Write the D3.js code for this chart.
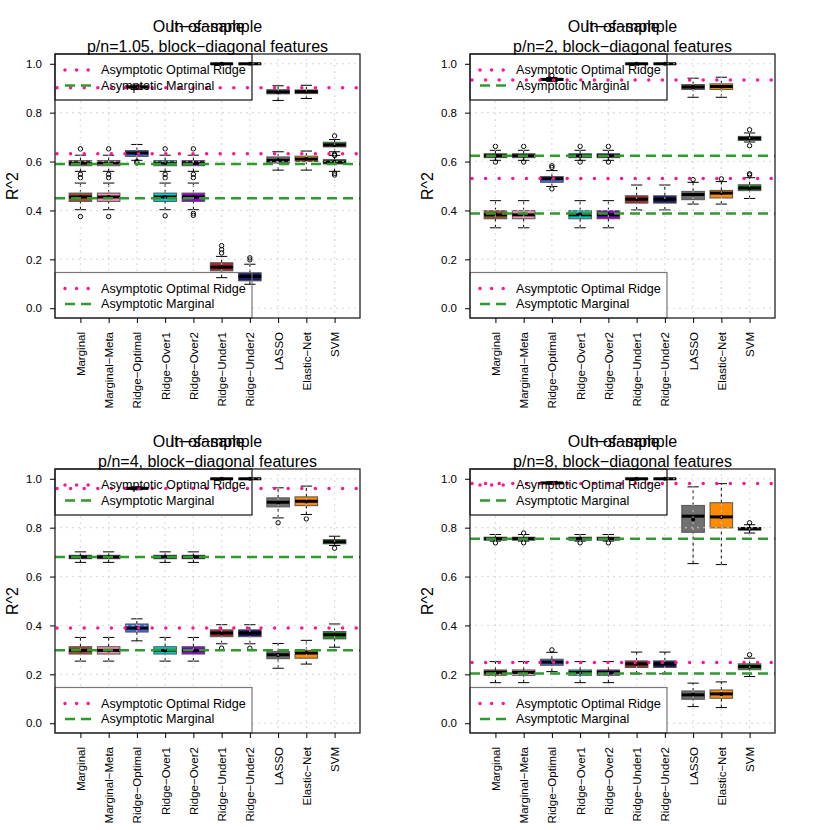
<!doctype html>
<html lang="en">
<head>
<meta charset="UTF-8">
<title>R^2 by method, block-diagonal features</title>
<style>
  body { margin: 0; background: #fff; }
  svg { font-family: "Liberation Sans", Arial, Helvetica, sans-serif; }
</style>
</head>
<body>
<svg id="chart" width="830" height="830"></svg>
<script src="https://d3js.org/d3.v7.min.js"></script>
<script>
const methods = ["Marginal", "Marginal−Meta", "Ridge−Optimal", "Ridge−Over1", "Ridge−Over2",
    "Ridge−Under1", "Ridge−Under2", "LASSO", "Elastic−Net", "SVM"];
const methodColors = ["#A0522D", "#F58FAE", "#4169E1", "#00CED1", "#9400D3",
    "#A52A2A", "#191970", "#707070", "#FF8C00", "#228B22"];
const yTicks = [0, 0.2, 0.4, 0.6, 0.8, 1.0];
const ratioLabels = ["1.05", "2", "4", "8"];

// asymptotic levels per panel: [in-sample, out-of-sample]
const ridgeAsymptote = [[0.902, 0.632], [0.934, 0.531], [0.960, 0.390], [0.981, 0.248]];
const marginalAsymptote = [[0.590, 0.450], [0.624, 0.388], [0.680, 0.299], [0.755, 0.203]];

// box stats per method: [lower whisker, q1, median, q3, upper whisker, mean]
const inSample105 = [
    [0.560, 0.583, 0.594, 0.604, 0.626, 0.594],
    [0.560, 0.583, 0.594, 0.604, 0.626, 0.594],
    [0.895, 0.901, 0.905, 0.909, 0.913, 0.905],
    [0.560, 0.583, 0.594, 0.604, 0.626, 0.594],
    [0.560, 0.583, 0.594, 0.604, 0.626, 0.594],
    [0.997, 0.999, 1.000, 1.000, 1.000, 1.000],
    [0.997, 0.999, 1.000, 1.000, 1.000, 1.000],
    [0.850, 0.877, 0.885, 0.894, 0.910, 0.885],
    [0.858, 0.878, 0.886, 0.893, 0.912, 0.886],
    [0.640, 0.660, 0.668, 0.679, 0.690, 0.668]
];
const inOutliers105 = [[0.652], [0.652], [], [0.652], [0.652], [], [], [], [], [0.705, 0.630, 0.625]];
const outSample105 = [
    [0.403, 0.437, 0.455, 0.471, 0.512, 0.455],
    [0.403, 0.437, 0.455, 0.471, 0.512, 0.455],
    [0.605, 0.621, 0.635, 0.645, 0.670, 0.633],
    [0.403, 0.437, 0.455, 0.471, 0.512, 0.455],
    [0.403, 0.437, 0.455, 0.471, 0.512, 0.455],
    [0.125, 0.153, 0.168, 0.186, 0.212, 0.168],
    [0.098, 0.112, 0.130, 0.145, 0.180, 0.130],
    [0.565, 0.594, 0.605, 0.619, 0.640, 0.605],
    [0.565, 0.600, 0.610, 0.622, 0.643, 0.610],
    [0.560, 0.590, 0.598, 0.608, 0.625, 0.598]
];
const outOutliers105 = [[0.534, 0.548, 0.375], [0.534, 0.548, 0.375], [0.600, 0.594], [0.534, 0.548, 0.378],
    [0.534, 0.548, 0.380, 0.388], [0.226, 0.240, 0.256], [0.198, 0.206], [], [], [0.552, 0.545]];

const inSample2 = [
    [0.605, 0.616, 0.624, 0.632, 0.646, 0.624],
    [0.605, 0.616, 0.624, 0.632, 0.646, 0.624],
    [0.928, 0.932, 0.936, 0.940, 0.944, 0.936],
    [0.605, 0.616, 0.624, 0.632, 0.646, 0.624],
    [0.605, 0.616, 0.624, 0.632, 0.646, 0.624],
    [0.997, 0.999, 1.000, 1.000, 1.000, 1.000],
    [0.997, 0.999, 1.000, 1.000, 1.000, 1.000],
    [0.863, 0.895, 0.905, 0.915, 0.941, 0.905],
    [0.863, 0.895, 0.907, 0.918, 0.945, 0.907],
    [0.680, 0.686, 0.695, 0.703, 0.717, 0.695]
];
const inOutliers2 = [[0.662, 0.598], [0.662, 0.598], [0.952], [0.662, 0.598], [0.662, 0.598], [], [], [], [], [0.730, 0.665]];
const outSample2 = [
    [0.329, 0.366, 0.382, 0.399, 0.440, 0.384],
    [0.329, 0.366, 0.382, 0.399, 0.440, 0.384],
    [0.498, 0.515, 0.530, 0.539, 0.563, 0.530],
    [0.329, 0.366, 0.382, 0.399, 0.440, 0.384],
    [0.329, 0.366, 0.382, 0.399, 0.440, 0.384],
    [0.402, 0.430, 0.446, 0.460, 0.504, 0.446],
    [0.402, 0.430, 0.446, 0.460, 0.504, 0.446],
    [0.426, 0.444, 0.465, 0.478, 0.515, 0.465],
    [0.426, 0.451, 0.471, 0.482, 0.518, 0.471],
    [0.449, 0.481, 0.492, 0.505, 0.534, 0.492]
];
const outOutliers2 = [[], [], [0.583, 0.576, 0.488], [], [], [], [], [0.526], [0.529], [0.550, 0.545]];

const inSample4 = [
    [0.658, 0.673, 0.680, 0.687, 0.701, 0.680],
    [0.658, 0.673, 0.680, 0.687, 0.701, 0.680],
    [0.955, 0.958, 0.961, 0.964, 0.967, 0.961],
    [0.658, 0.673, 0.680, 0.687, 0.701, 0.680],
    [0.658, 0.673, 0.680, 0.687, 0.701, 0.680],
    [0.997, 0.999, 1.000, 1.000, 1.000, 1.000],
    [0.997, 0.999, 1.000, 1.000, 1.000, 1.000],
    [0.840, 0.885, 0.904, 0.922, 0.963, 0.902],
    [0.854, 0.890, 0.908, 0.926, 0.970, 0.907],
    [0.727, 0.734, 0.742, 0.751, 0.765, 0.742]
];
const inOutliers4 = [[], [], [], [], [], [], [], [0.820], [0.836], [0.716]];
const outSample4 = [
    [0.254, 0.283, 0.298, 0.313, 0.351, 0.298],
    [0.254, 0.283, 0.298, 0.313, 0.351, 0.298],
    [0.337, 0.373, 0.389, 0.406, 0.427, 0.390],
    [0.254, 0.283, 0.298, 0.313, 0.351, 0.298],
    [0.254, 0.283, 0.298, 0.313, 0.351, 0.298],
    [0.325, 0.354, 0.369, 0.382, 0.403, 0.369],
    [0.325, 0.354, 0.369, 0.382, 0.403, 0.369],
    [0.225, 0.264, 0.280, 0.293, 0.326, 0.279],
    [0.242, 0.266, 0.287, 0.298, 0.339, 0.287],
    [0.311, 0.345, 0.362, 0.375, 0.406, 0.362]
];
const outOutliers4 = [[], [], [], [], [], [0.307], [0.307], [], [], []];

const inSample8 = [
    [0.745, 0.749, 0.755, 0.761, 0.772, 0.755],
    [0.745, 0.749, 0.755, 0.761, 0.772, 0.755],
    [0.978, 0.981, 0.983, 0.985, 0.988, 0.983],
    [0.745, 0.749, 0.755, 0.761, 0.772, 0.755],
    [0.745, 0.749, 0.755, 0.761, 0.772, 0.755],
    [0.997, 0.999, 1.000, 1.000, 1.000, 1.000],
    [0.997, 0.999, 1.000, 1.000, 1.000, 1.000],
    [0.653, 0.781, 0.847, 0.891, 0.967, 0.833],
    [0.649, 0.799, 0.844, 0.902, 0.980, 0.843],
    [0.778, 0.790, 0.796, 0.801, 0.812, 0.796]
];
const inOutliers8 = [[0.738], [0.738, 0.778], [], [0.738], [0.738], [], [], [], [], [0.820]];
const outSample8 = [
    [0.166, 0.196, 0.208, 0.218, 0.252, 0.208],
    [0.166, 0.196, 0.208, 0.218, 0.252, 0.208],
    [0.211, 0.237, 0.250, 0.262, 0.290, 0.250],
    [0.166, 0.196, 0.208, 0.218, 0.252, 0.208],
    [0.166, 0.196, 0.208, 0.218, 0.252, 0.208],
    [0.202, 0.228, 0.243, 0.255, 0.291, 0.244],
    [0.202, 0.228, 0.243, 0.255, 0.291, 0.244],
    [0.068, 0.098, 0.116, 0.132, 0.164, 0.116],
    [0.064, 0.102, 0.120, 0.136, 0.169, 0.119],
    [0.191, 0.219, 0.232, 0.243, 0.266, 0.231]
];
const outOutliers8 = [[], [], [0.300], [], [], [], [], [], [], [0.280]];

const panels = [
    {ratio: ratioLabels[0], inS: inSample105, inO: inOutliers105, outS: outSample105, outO: outOutliers105},
    {ratio: ratioLabels[1], inS: inSample2, inO: inOutliers2, outS: outSample2, outO: outOutliers2},
    {ratio: ratioLabels[2], inS: inSample4, inO: inOutliers4, outS: outSample4, outO: outOutliers4},
    {ratio: ratioLabels[3], inS: inSample8, inO: inOutliers8, outS: outSample8, outO: outOutliers8}
];

const svg = d3.select("#chart");
const fontFamily = '"Liberation Sans", Arial, Helvetica, sans-serif';
const panelOrigins = [[0, 0], [415, 0], [0, 415], [415, 415]];
const plot = {left: 55, right: 360, top: 54, bottom: 318};
const legendTop = {x: 55, y: 54, w: 197, h: 46};
const legendBottom = {x: 55, y: 272.5, w: 197, h: 45.5};

const x = d3.scaleLinear().domain([0.1, 10.9]).range([plot.left, plot.right]);
const y = d3.scaleLinear().domain([-0.04, 1.04]).range([plot.bottom, plot.top]);
const halfBox = x(1.4) - x(1);
const halfCap = halfBox / 2;

function drawBoxes(g, stats, outliers) {
    const rows = stats.map((s, i) => ({s: s, i: i, col: methodColors[i], out: outliers[i]}));
    const b = g.append("g").selectAll("g").data(rows).join("g");

    // whiskers
    b.append("line")
        .attr("x1", d => x(d.i + 1)).attr("x2", d => x(d.i + 1))
        .attr("y1", d => y(d.s[0])).attr("y2", d => y(d.s[1]))
        .attr("stroke", "#000").attr("stroke-dasharray", "3,3");
    b.append("line")
        .attr("x1", d => x(d.i + 1)).attr("x2", d => x(d.i + 1))
        .attr("y1", d => y(d.s[3])).attr("y2", d => y(d.s[4]))
        .attr("stroke", "#000").attr("stroke-dasharray", "3,3");
    b.append("line")
        .attr("x1", d => x(d.i + 1) - halfCap).attr("x2", d => x(d.i + 1) + halfCap)
        .attr("y1", d => y(d.s[0])).attr("y2", d => y(d.s[0]))
        .attr("stroke", "#000");
    b.append("line")
        .attr("x1", d => x(d.i + 1) - halfCap).attr("x2", d => x(d.i + 1) + halfCap)
        .attr("y1", d => y(d.s[4])).attr("y2", d => y(d.s[4]))
        .attr("stroke", "#000");

    b.append("rect")
        .attr("x", d => x(d.i + 1) - halfBox)
        .attr("y", d => y(d.s[3]))
        .attr("width", 2 * halfBox)
        .attr("height", d => Math.max(0.3, y(d.s[1]) - y(d.s[3])))
        .attr("fill", d => d.col)
        .attr("stroke", "#555")
        .attr("stroke-width", 1);

    b.append("line")
        .attr("x1", d => x(d.i + 1) - halfBox).attr("x2", d => x(d.i + 1) + halfBox)
        .attr("y1", d => y(d.s[2])).attr("y2", d => y(d.s[2]))
        .attr("stroke", "#000").attr("stroke-width", 3);

    b.selectAll("circle.outlier")
        .data(d => d.out.map(v => ({v: v, i: d.i})))
        .join("circle")
        .attr("class", "outlier")
        .attr("cx", d => x(d.i + 1))
        .attr("cy", d => y(d.v))
        .attr("r", 2.2)
        .attr("fill", "none")
        .attr("stroke", "#000");

    b.append("circle")
        .attr("cx", d => x(d.i + 1))
        .attr("cy", d => y(d.s[5]))
        .attr("r", 2)
        .attr("fill", "#000");
}

function drawLegend(g, box, border) {
    g.append("rect")
        .attr("x", box.x).attr("y", box.y)
        .attr("width", box.w).attr("height", box.h)
        .attr("fill", "none").attr("stroke", border).attr("stroke-width", 1.2);
    const r1 = box.y + 16, r2 = box.y + 31.5;
    g.append("line")
        .attr("x1", 65).attr("x2", 90).attr("y1", r1).attr("y2", r1)
        .attr("stroke", "#FF1493").attr("stroke-width", 3.5)
        .attr("stroke-linecap", "round").attr("stroke-dasharray", "0,11.6");
    g.append("line")
        .attr("x1", 65).attr("x2", 91).attr("y1", r2).attr("y2", r2)
        .attr("stroke", "#2E9B2E").attr("stroke-width", 2.5)
        .attr("stroke-dasharray", "10,6");
    g.append("text").attr("x", 101).attr("y", r1).attr("dy", "0.35em")
        .attr("font-size", 12.6).text("Asymptotic Optimal Ridge");
    g.append("text").attr("x", 101).attr("y", r2).attr("dy", "0.35em")
        .attr("font-size", 12.6).text("Asymptotic Marginal");
}

panels.forEach(function (p, k) {
    const g = svg.append("g").attr("transform", "translate(" + panelOrigins[k] + ")");

    drawBoxes(g, p.outS, p.outO);
    drawBoxes(g, p.inS, p.inO);

    // grid, kept out of the legend boxes
    const clipId = "gridclip" + k;
    g.append("clipPath").attr("id", clipId)
        .append("path")
        .attr("clip-rule", "evenodd")
        .attr("d", "M" + plot.left + "," + plot.top + "H" + plot.right + "V" + plot.bottom + "H" + plot.left + "Z" +
            "M" + legendTop.x + "," + legendTop.y + "h" + legendTop.w + "v" + legendTop.h + "h" + (-legendTop.w) + "Z" +
            "M" + legendBottom.x + "," + legendBottom.y + "h" + legendBottom.w + "v" + legendBottom.h + "h" + (-legendBottom.w) + "Z");
    const grid = g.append("g").attr("clip-path", "url(#" + clipId + ")")
        .attr("stroke", "#cfcfcf").attr("stroke-width", 1.6)
        .attr("stroke-linecap", "round").attr("stroke-dasharray", "0,6");
    grid.selectAll("line.h").data(yTicks).join("line").attr("class", "h")
        .attr("x1", plot.left).attr("x2", plot.right)
        .attr("y1", d => y(d)).attr("y2", d => y(d));
    grid.selectAll("line.v").data(methods.map((m, i) => i + 1)).join("line").attr("class", "v")
        .attr("x1", d => x(d)).attr("x2", d => x(d))
        .attr("y1", plot.top).attr("y2", plot.bottom);

    // asymptotic reference lines
    g.selectAll("line.ridge").data(ridgeAsymptote[k]).join("line").attr("class", "ridge")
        .attr("x1", plot.left + 2).attr("x2", plot.right)
        .attr("y1", d => y(d)).attr("y2", d => y(d))
        .attr("stroke", "#FF1493").attr("stroke-width", 3.5)
        .attr("stroke-linecap", "round").attr("stroke-dasharray", "0,13.6");
    g.selectAll("line.marg").data(marginalAsymptote[k]).join("line").attr("class", "marg")
        .attr("x1", plot.left).attr("x2", plot.right)
        .attr("y1", d => y(d)).attr("y2", d => y(d))
        .attr("stroke", "#2E9B2E").attr("stroke-width", 2.5)
        .attr("stroke-dasharray", "10,6");

    drawLegend(g, legendTop, "#111");
    drawLegend(g, legendBottom, "#777");

    g.append("rect")
        .attr("x", plot.left).attr("y", plot.top)
        .attr("width", plot.right - plot.left).attr("height", plot.bottom - plot.top)
        .attr("fill", "none").attr("stroke", "#222").attr("stroke-width", 1.3);

    // axes
    g.append("g")
        .attr("transform", "translate(" + plot.left + ",0)")
        .call(d3.axisLeft(y).tickValues(yTicks).tickFormat(d3.format(".1f"))
            .tickSize(5).tickPadding(8).tickSizeOuter(0))
        .attr("font-size", 11.5).attr("font-family", fontFamily)
        .call(a => a.select(".domain").remove());

    const xa = g.append("g")
        .attr("transform", "translate(0," + plot.bottom + ")")
        .call(d3.axisBottom(x).tickValues(d3.range(1, 11)).tickFormat(i => methods[i - 1])
            .tickSize(5).tickSizeOuter(0))
        .attr("font-size", 11.5).attr("font-family", fontFamily);
    xa.select(".domain").remove();
    xa.selectAll("text")
        .attr("transform", "rotate(-90)")
        .attr("text-anchor", "end")
        .attr("x", -14).attr("y", 0).attr("dy", "0.35em");

    g.append("text")
        .attr("transform", "translate(18," + ((plot.top + plot.bottom) / 2) + ") rotate(-90)")
        .attr("text-anchor", "middle").attr("font-size", 16).text("R^2");

    // the two overlaid titles
    const cx = (plot.left + plot.right) / 2;
    g.append("text").attr("x", cx).attr("y", 32).attr("text-anchor", "middle")
        .attr("font-size", 16).text("Out−of−sample");
    g.append("text").attr("x", cx).attr("y", 32).attr("text-anchor", "middle")
        .attr("font-size", 16).text("In−sample");
    g.append("text").attr("x", cx).attr("y", 52).attr("text-anchor", "middle")
        .attr("font-size", 16).text("p/n=" + p.ratio + ", block−diagonal features");
});
</script>
</body>
</html>
